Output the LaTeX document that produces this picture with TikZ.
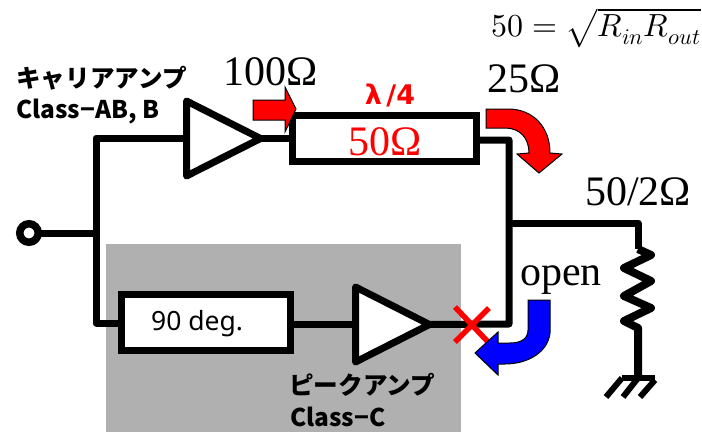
\documentclass[tikz,border=0pt]{standalone}
\usepackage{amsmath}
\usepackage{fontspec}
\usepackage{unicode-math}
\setmathfont{Latin Modern Math}
\setmainfont{Liberation Serif}
\newfontfamily\jpfont{Noto Sans CJK JP}
\newfontfamily\uifont{Noto Sans}
\newfontfamily\lamfont{DejaVu Sans}
\usetikzlibrary{shapes.geometric}
\definecolor{panelgrey}{HTML}{B0B0B0}
\tikzset{
  wire/.style={line width=8pt,line join=round,line cap=butt},
  thinwire/.style={line width=7pt,line join=round},
  ampshape/.style={draw,line width=7pt,fill=white,line join=round,isosceles triangle,isosceles triangle stretches,inner sep=0pt,outer sep=0pt,minimum width=75pt,minimum height=74pt,anchor=lower side},
  boxshape/.style={draw,line width=7pt,fill=white,inner sep=0pt,outer sep=0pt},
  big/.style={inner sep=0pt,font=\fontsize{42}{42}\selectfont},
  sans/.style={inner sep=0pt,anchor=west,font=\jpfont\bfseries\fontsize{24.4}{24.4}\selectfont},
  jp/.style={inner sep=0pt,anchor=west,font=\jpfont\bfseries\fontsize{24.6}{24.6}\selectfont},
  flow/.style={draw=black,line width=1pt,line join=miter}
}
\begin{document}
\begin{tikzpicture}[x=1pt,y=-1pt]
\useasboundingbox (0,0) rectangle (702,432);
\fill[panelgrey] (106,244) rectangle (461,432);

% named points
\coordinate (split) at (96,233);
\coordinate (ctop) at (96,138);
\coordinate (cbot) at (96,323);
\coordinate (jtop) at (509,140);
\coordinate (jmid) at (509,223);
\coordinate (jbot) at (509,324);
\coordinate (rtop) at (638,223);
\coordinate (r0) at (638,249);
\coordinate (r7) at (638,328);
\coordinate (gnd) at (638,378);

\node[circle,draw,line width=7.5pt,fill=white,minimum size=18.5pt,inner sep=0pt,outer sep=0pt] (in) at (29,233) {};
\node[ampshape] (amp1) at (186.5,138.5) {};
\node[ampshape] (amp2) at (355.5,324.5) {};
\node[boxshape,minimum width=184pt,minimum height=46pt] (tl) at (384,138) {};
\node[boxshape,minimum width=169pt,minimum height=56pt] (dl) at (206,322.5) {};

% connectors
\draw[thinwire] (in.east) -- (split);
\draw[thinwire] (amp1.lower side |- ctop) -- (ctop) -- (cbot) -- (dl.west |- cbot);
\draw[thinwire] (amp1.apex) -- (tl.west |- amp1.apex);
\draw[thinwire] (dl.east |- amp2.lower side) -- (amp2.lower side);
\draw[thinwire] (tl.east |- jtop) -- (jtop) -- (jbot) -- (amp2.apex);
\draw[thinwire] (jmid) -- (rtop) -- (r0);
\draw[wire] (r0) -- (651,255) -- (624,268) -- (651,281) -- (624,296) -- (651,308) -- (624,321) -- (r7) -- (gnd);
\draw[line width=6pt] (622,378) -- (655,378);
\draw[line width=6pt] (622,378) -- (606,397);
\draw[line width=6pt] (638,378) -- (623,397);
\draw[line width=6pt] (655,380) -- (640,397);

% cross
\coordinate (xc) at (472,325);
\draw[red,line width=5.5pt] ([shift={(-17,-18)}]xc) -- ([shift={(17,18)}]xc);
\draw[red,line width=5.5pt] ([shift={(17,-17)}]xc) -- ([shift={(-17,17)}]xc);

% flow arrows
\draw[flow,fill=red] (253,100) -- (285,100) -- (285,87) -- (296,109) -- (285,132) -- (285,120) -- (253,120) -- cycle;
\draw[flow,fill=red] (486,109) -- (508,109) .. controls (534,109) and (550,128) .. (550,153) -- (562,154) -- (539,173) -- (517,154) -- (529,153) .. controls (529,138) and (520,128) .. (505,128) -- (486,128) -- cycle;
\draw[flow,fill=blue] (528,300) -- (550,300) -- (550,333) .. controls (548,352) and (528,364) .. (505,364) -- (498,364) -- (498,375) -- (475,353) -- (498,332) -- (498,343) -- (510,343) .. controls (522,343) and (528,338) .. (528,330) -- cycle;

% text
\node[jp] (t1) at (16,78) {キャリアアンプ};
\node[sans] (t2) at (16,112) {Class−AB, B};
\node[big,anchor=west] (t3) at (223,72) {100Ω};
\node[big,anchor=west] (t4) at (487,79) {25Ω};
\node[big,anchor=west] (t5) at (585,192) {50/2Ω};
\node[big,anchor=west] (t6) at (520,280) {open};
\node[inner sep=0pt,text=red,font=\lamfont\bfseries\fontsize{27}{27}\selectfont] (t7) at (390,95) {λ\,/4};
\node[big,text=red] (t8) at (385,142) {50Ω};
\node[inner sep=0pt,anchor=west,font=\uifont\fontsize{26.5}{26.5}\selectfont] (t9) at (151,324) {90 deg.};
\node[jp] (t10) at (289,385) {ピークアンプ};
\node[sans] (t11) at (290,417) {Class−C};
\node[inner sep=0pt,anchor=west,font=\fontsize{32}{32}\selectfont] (t12) at (491,28) {$50=\sqrt{R_{in}R_{out}}$};
\end{tikzpicture}
\end{document}
